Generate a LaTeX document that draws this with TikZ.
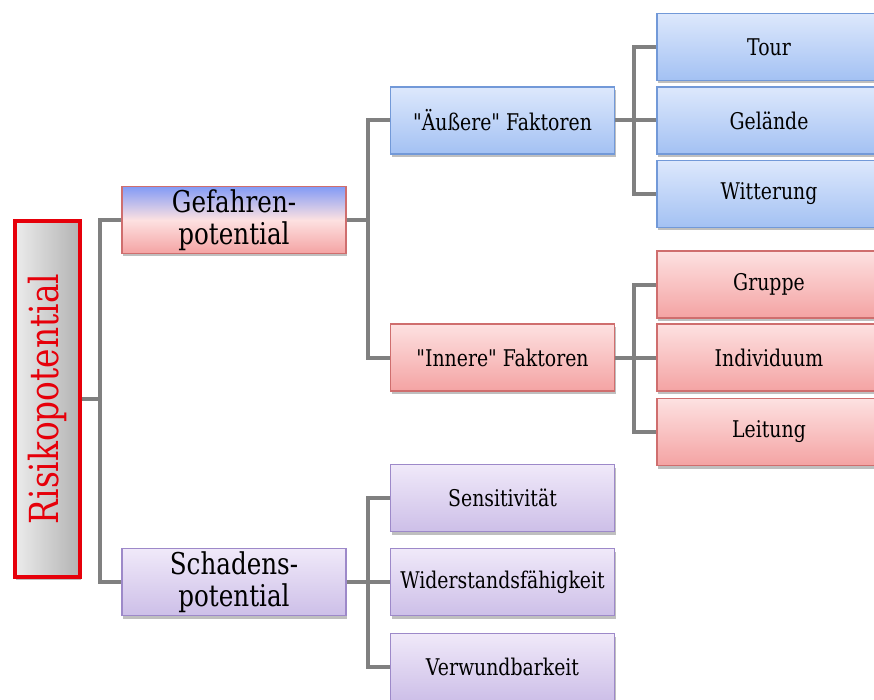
\documentclass[tikz,border=0pt]{standalone}
\usepackage{fontspec}
\setmainfont[FakeStretch=0.82, Ligatures=TeXOff]{DejaVu Serif}
\usepackage{xcolor}
\usepackage{tikz}
\usetikzlibrary{shadows}

\definecolor{linkgray}{HTML}{808080}
\definecolor{bluetop}{HTML}{DDE8FC}
\definecolor{bluebot}{HTML}{A3C1F3}
\definecolor{blueline}{HTML}{7299D8}
\definecolor{redtop}{HTML}{FDE1E1}
\definecolor{redbot}{HTML}{F4A3A3}
\definecolor{redline}{HTML}{CF6E6E}
\definecolor{violtop}{HTML}{F0E9F9}
\definecolor{violbot}{HTML}{CDBFE8}
\definecolor{violline}{HTML}{9D89C9}
\definecolor{riskred}{HTML}{E6000A}

\tikzset{
  box/.style={draw, line width=1.2pt, align=center, inner sep=0pt,
    minimum width=224, minimum height=67, font=\fontsize{23}{27}\selectfont,
    drop shadow={shadow xshift=1pt, shadow yshift=-3pt, opacity=0.25, fill=black}},
  bluebox/.style={box, draw=blueline, top color=bluetop, bottom color=bluebot},
  redbox/.style={box, draw=redline, top color=redtop, bottom color=redbot},
  violbox/.style={box, draw=violline, top color=violtop, bottom color=violbot},
  link/.style={draw=linkgray, line width=4pt}
}

\begin{document}
\begin{tikzpicture}[x=1pt,y=-1pt]
\useasboundingbox (0,0) rectangle (874,700);

\node[box, rotate=90, draw=riskred, line width=4pt, left color=gray!15, right color=gray!60,
  minimum width=355, minimum height=65, text=riskred,
  font=\fontsize{40}{44}\selectfont] (risk) at (47.5,399) {Risikopotential};

\node[box, draw=redline, top color=bluebot!80!blue, bottom color=redbot, middle color=redtop,
  font=\fontsize{30}{32}\selectfont] (gef) at (234,220) {Gefahren-\\potential};
\node[violbox, font=\fontsize{30}{32}\selectfont] (sch) at (234,582) {Schadens-\\potential};

\node[bluebox] (auss) at (502.5,120.5) {"Äußere" Faktoren};
\node[redbox] (inn) at (502.5,357.5) {"Innere" Faktoren};
\node[violbox] (sens) at (502.5,498) {Sensitivität};
\node[violbox] (wid) at (502.5,582) {Widerstandsfähigkeit};
\node[violbox] (verw) at (502.5,667) {Verwundbarkeit};

\node[bluebox] (tour) at (769,47) {Tour};
\node[bluebox] (gel) at (769,120.5) {Gelände};
\node[bluebox] (witt) at (769,194) {Witterung};
\node[redbox] (grp) at (769,284.5) {Gruppe};
\node[redbox] (ind) at (769,357.5) {Individuum};
\node[redbox] (leit) at (769,432) {Leitung};

\draw[link] (risk.south) -- ++(19,0);
\draw[link] (gef.west) -- ++(-21,0) |- (sch.west);
\draw[link] (gef.east) -- ++(22,0);
\draw[link] (auss.west) -- ++(-22,0) |- (inn.west);
\draw[link] (sch.east) -- (wid.west);
\draw[link] (sens.west) -- ++(-22,0) |- (verw.west);
\draw[link] (auss.east) -- (gel.west);
\draw[link] (tour.west) -- ++(-22,0) |- (witt.west);
\draw[link] (inn.east) -- (ind.west);
\draw[link] (grp.west) -- ++(-22,0) |- (leit.west);
\end{tikzpicture}
\end{document}
